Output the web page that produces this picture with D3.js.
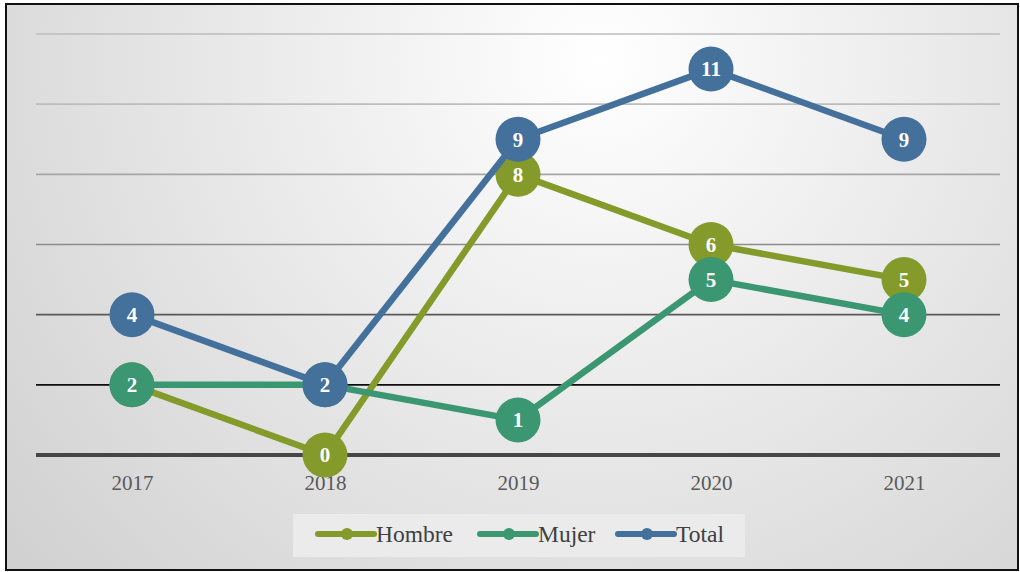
<!DOCTYPE html>
<html><head><meta charset="utf-8">
<script src="https://cdn.jsdelivr.net/npm/d3@7"></script>
<style>html,body{margin:0;padding:0;background:#fff;}svg{display:block;}</style>
</head><body>
<script>
const years = ["2017","2018","2019","2020","2021"];
const hombre = [2, 0, 8, 6, 5];
const mujer = [2, 2, 1, 5, 4];
const total = [4, 2, 9, 11, 9];
const yTicks = [0, 2, 4, 6, 8, 10, 12];
const seriesNames = ["Hombre", "Mujer", "Total"];
const seriesColors = ["#849a2a", "#3a9771", "#44709c"];
const seriesData = [hombre, mujer, total];
const gridColors = ["#464646", "#0d0d0d", "#595959", "#8c8c8c", "#a6a6a6", "#bdbdbd", "#bdbdbd"];

const W = 1020, H = 572;
const svg = d3.select("body").append("svg").attr("width", W).attr("height", H);
const defs = svg.append("defs");
const rg = defs.append("radialGradient").attr("id", "bg")
  .attr("gradientUnits", "userSpaceOnUse")
  .attr("cx", 600).attr("cy", 60).attr("r", 780);
rg.append("stop").attr("offset", "0").attr("stop-color", "#ffffff");
rg.append("stop").attr("offset", "1").attr("stop-color", "#d0d0d0");

svg.append("rect").attr("x", 6).attr("y", 4).attr("width", 1012).attr("height", 566)
  .attr("fill", "url(#bg)").attr("stroke", "#111").attr("stroke-width", 2);

const x = d3.scalePoint().domain(years).range([132, 904]);
const y = d3.scaleLinear().domain([0, 12]).range([455, 34]);

const grid = svg.append("g");
yTicks.forEach((t, i) => {
  grid.append("line").attr("x1", 36).attr("x2", 1000)
    .attr("y1", y(t)).attr("y2", y(t))
    .attr("stroke", gridColors[i])
    .attr("stroke-width", t === 0 ? 4 : 1.6);
});

const xAxis = svg.append("g").attr("transform", `translate(0,${y(0)})`)
  .call(d3.axisBottom(x).tickSize(0).tickPadding(20));
xAxis.select(".domain").remove();
xAxis.selectAll("text").attr("font-family", "Liberation Serif, serif")
  .attr("font-size", 21).attr("fill", "#595959");

const line = d3.line().x((d, i) => x(years[i])).y(d => y(d));
seriesData.forEach((data, si) => {
  const g = svg.append("g");
  g.append("path").datum(data).attr("d", line).attr("fill", "none")
    .attr("stroke", seriesColors[si]).attr("stroke-width", 6.5).attr("stroke-linejoin", "round");
  const pts = g.selectAll("g.pt").data(data).join("g")
    .attr("transform", (d, i) => `translate(${x(years[i])},${y(d)})`);
  pts.append("circle").attr("r", 22.5).attr("fill", seriesColors[si]);
  pts.append("text").text(d => d).attr("text-anchor", "middle").attr("dy", "0.35em")
    .attr("font-family", "Liberation Serif, serif").attr("font-weight", "bold")
    .attr("font-size", 21).attr("fill", "#fff");
});

// legend
const lg = svg.append("g");
lg.append("rect").attr("x", 293).attr("y", 514).attr("width", 452).attr("height", 43).attr("fill", "#ebebeb");
const legX = [318, 480, 618];
seriesNames.forEach((n, i) => {
  const g = lg.append("g").attr("transform", `translate(${legX[i]},534)`);
  g.append("line").attr("x1", 0).attr("x2", 56).attr("stroke", seriesColors[i])
    .attr("stroke-width", 6).attr("stroke-linecap", "round");
  g.append("circle").attr("cx", 29).attr("r", 6).attr("fill", seriesColors[i]);
  g.append("text").attr("x", 58).attr("dy", "0.35em").text(n)
    .attr("font-family", "Liberation Serif, serif").attr("font-size", 23.5).attr("fill", "#404040");
});
</script>
</body></html>
